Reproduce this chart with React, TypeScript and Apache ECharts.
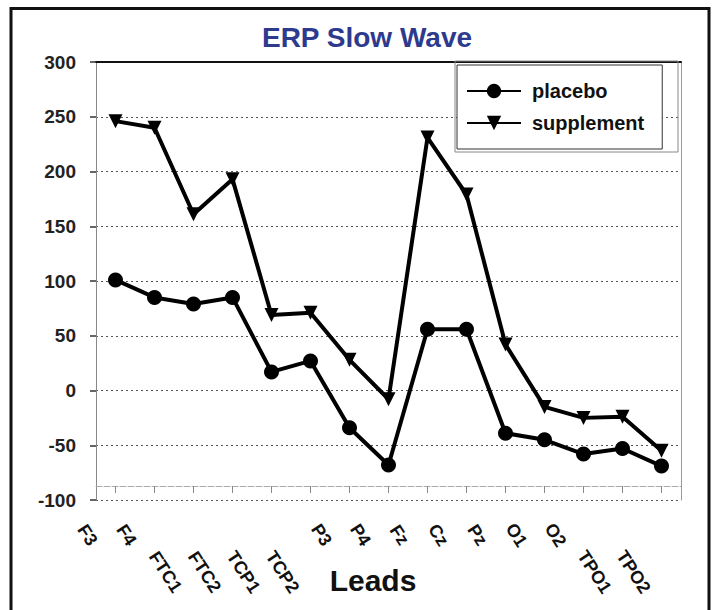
import React, { useEffect, useRef } from "react";
import * as echarts from "echarts";

const categories = ["F3", "F4", "FTC1", "FTC2", "TCP1", "TCP2", "P3", "P4", "Fz", "Cz", "Pz", "O1", "O2", "TPO1", "TPO2"];
const placebo = [101, 85, 79, 85, 17, 27, -34, -68, 56, 56, -39, -45, -58, -53, -69];
const supplement = [246, 240, 161, 193, 69, 71, 28, -8, 231, 179, 42, -15, -25, -24, -55];
const yMin = -100;
const yMax = 300;
const yStep = 50;
const titleText = "ERP Slow Wave";
const xName = "Leads";

const FONT = "'Liberation Sans', Arial, sans-serif";

export default function App() {
  const ref = useRef<HTMLDivElement>(null);
  useEffect(() => {
    if (!ref.current) return;
    const chart = echarts.init(ref.current, null, { renderer: "svg" });
    const gridBase = { left: 96, right: 31, outerBoundsMode: "none", containLabel: false } as any;
    const labelAxis = (offset: number, pick: (v: string) => boolean) => ({
      type: "category",
      gridIndex: 2,
      position: "bottom",
      data: categories,
      offset,
      axisLine: { show: false, onZero: false },
      axisTick: { show: false },
      axisLabel: {
        show: true,
        interval: 0,
        rotate: -57,
        align: "center",
        verticalAlign: "middle",
        margin: 35,
        fontFamily: FONT,
        fontSize: 18,
        fontWeight: "bold",
        color: "#111",
        formatter: (v: string) => (pick(v) ? v : ""),
      },
    });
    const option: any = {
      animation: false,
      backgroundColor: "#fff",
      textStyle: { fontFamily: FONT },
      title: {
        text: titleText,
        left: 362,
        top: 18,
        textAlign: "center",
        textStyle: { fontFamily: FONT, fontSize: 28, fontWeight: "bold", color: "#2D3A8E" },
      },
      legend: {
        orient: "vertical",
        left: 457,
        top: 65,
        itemWidth: 54,
        itemHeight: 18,
        itemGap: 12,
        padding: [16, 18, 16, 9],
        backgroundColor: "#fff",
        borderColor: "#333",
        borderWidth: 1,
        textStyle: { fontFamily: FONT, fontSize: 20, fontWeight: "bold", color: "#111", padding: [0, 0, 0, 6] },
        data: ["placebo", "supplement"],
      },
      grid: [
        { ...gridBase, top: 62, bottom: 110 },
        { ...gridBase, top: 62, bottom: 124 },
        { ...gridBase, left: 68, right: 59, top: 62, bottom: 110 },
      ],
      xAxis: [
        {
          type: "category",
          gridIndex: 0,
          position: "bottom",
          data: categories,
          boundaryGap: true,
          axisLine: { show: false, onZero: false },
          axisTick: { show: false },
          axisLabel: { show: false },
          splitLine: { show: false },
        },
        {
          type: "category",
          gridIndex: 0,
          position: "top",
          data: categories,
          axisLine: { show: true, onZero: false, lineStyle: { color: "#111", width: 2 } },
          axisTick: { show: false },
          axisLabel: { show: false },
        },
        {
          type: "category",
          gridIndex: 1,
          position: "bottom",
          data: categories,
          axisLine: { show: true, onZero: false, lineStyle: { color: "#aaa", width: 1, type: [6, 2] } },
          axisTick: { show: true, interval: 0, alignWithLabel: true, length: 7, lineStyle: { color: "#888" } },
          axisLabel: { show: false, interval: 0 },
        },
        labelAxis(0, (v) => v.length <= 2),
        labelAxis(37, (v) => v.length > 2),
      ],
      yAxis: [
        {
          type: "value",
          gridIndex: 0,
          min: yMin,
          max: yMax,
          interval: yStep,
          axisLine: { show: true, onZero: false, lineStyle: { color: "#888", width: 1 } },
          axisTick: { show: true, length: 6, lineStyle: { color: "#333", width: 1.5 } },
          axisLabel: { fontFamily: FONT, fontSize: 19, fontWeight: "bold", color: "#222", margin: 20 },
          splitLine: { show: true, lineStyle: { color: "#555", width: 1, type: [2, 3] } },
        },
        {
          type: "value",
          gridIndex: 0,
          position: "right",
          min: yMin,
          max: yMax,
          interval: yStep,
          axisLine: { show: true, onZero: false, lineStyle: { color: "#999", width: 1 } },
          axisTick: { show: false },
          axisLabel: { show: false },
          splitLine: { show: false },
        },
        { type: "value", gridIndex: 1, min: 0, max: 1, show: false },
        { type: "value", gridIndex: 2, min: 0, max: 1, show: false },
      ],
      series: [
        {
          name: "placebo",
          type: "line",
          xAxisIndex: 0,
          yAxisIndex: 0,
          data: placebo,
          symbol: "circle",
          symbolSize: 15,
          lineStyle: { color: "#000", width: 4 },
          itemStyle: { color: "#000" },
          z: 5,
        },
        {
          name: "supplement",
          type: "line",
          xAxisIndex: 0,
          yAxisIndex: 0,
          data: supplement,
          symbol: "triangle",
          symbolRotate: 180,
          symbolSize: 14,
          lineStyle: { color: "#000", width: 4 },
          itemStyle: { color: "#000" },
          z: 5,
        },
      ],
      graphic: [
        {
          type: "rect",
          shape: { x: 11, y: 8.5, width: 698, height: 620 },
          style: { fill: "none", stroke: "#111", lineWidth: 3 },
          silent: true,
        },
        {
          type: "rect",
          shape: { x: 455, y: 61, width: 223, height: 91 },
          style: { fill: "none", stroke: "#888", lineWidth: 1 },
          silent: true,
          z: 1,
        },
        {
          type: "text",
          x: 373,
          y: 580,
          style: {
            text: xName,
            fontFamily: FONT,
            fontSize: 30,
            fontWeight: "bold",
            fill: "#111",
            align: "center",
            verticalAlign: "middle",
          },
        },
      ],
    };
    chart.setOption(option);
    return () => chart.dispose();
  }, []);
  return <div ref={ref} style={{ position: "absolute", left: 0, top: 0, width: 712, height: 610 }} />;
}
